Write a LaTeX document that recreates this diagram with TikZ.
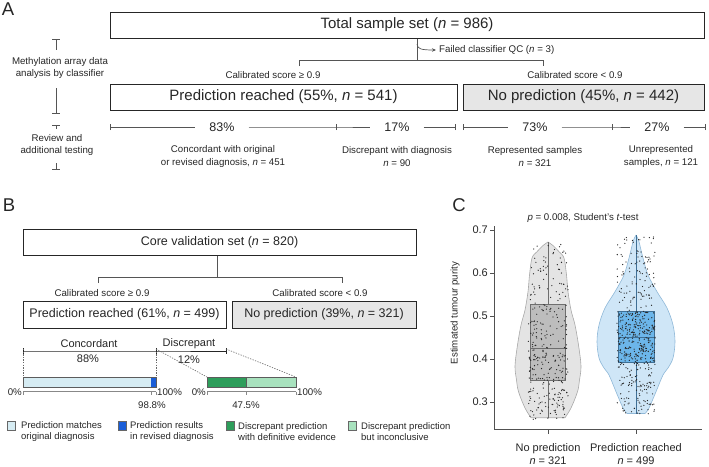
\documentclass[tikz,border=0pt]{standalone}
\usepackage{fontspec}
\setmainfont{Liberation Sans}
\usetikzlibrary{arrows.meta}
\definecolor{ink}{HTML}{262626}
\definecolor{lineg}{HTML}{555555}
\definecolor{boxgray}{HTML}{E6E6E6}
\definecolor{vgray}{HTML}{E4E4E4}
\definecolor{vgrayb}{HTML}{A8A8A8}
\definecolor{bgray}{HTML}{BDBDBD}
\definecolor{bgrayb}{HTML}{6E6E6E}
\definecolor{vblue}{HTML}{CFE6F7}
\definecolor{vblueb}{HTML}{8FB8D8}
\definecolor{bblue}{HTML}{6CB6EA}
\definecolor{bblueb}{HTML}{3F6F95}
\definecolor{lightbar}{HTML}{D6ECF3}
\definecolor{revblue}{HTML}{1A5ED8}
\definecolor{dgreen}{HTML}{2E9E5B}
\definecolor{lgreen}{HTML}{A8E2BE}
\newcommand{\myBig}{\fontsize{15}{18}\selectfont}
\newcommand{\myMid}{\fontsize{12.5}{15}\selectfont}
\newcommand{\mySmall}{\fontsize{9.7}{12}\selectfont}
\newcommand{\myDesc}{\fontsize{9.7}{13}\selectfont}
\newcommand{\myLeg}{\fontsize{9.5}{11.7}\selectfont}
\newcommand{\myPct}{\fontsize{12.5}{15}\selectfont}
\newcommand{\myBr}{\fontsize{11}{13}\selectfont}
\newcommand{\myAx}{\fontsize{11}{13}\selectfont}
\newcommand{\myLetter}{\fontsize{18.5}{20}\selectfont}
\tikzset{
  flowbox/.style={draw=ink, line width=1pt, inner sep=0pt, text=ink},
  graybox/.style={flowbox, fill=boxgray},
  conn/.style={draw=lineg, line width=0.9pt},
  seg/.style={draw=lineg, line width=0.7pt},
  pctlab/.style={inner xsep=14pt, inner ysep=0pt, text=ink, font=\myPct},
  lab/.style={inner sep=0pt, text=ink, font=\mySmall},
  desc/.style={inner sep=0pt, text=ink, font=\myDesc, align=center},
  leg/.style={inner sep=0pt, text=ink, font=\myLeg, align=left, anchor=west},
  legsq/.style={draw=ink!70, line width=0.5pt, minimum width=8pt, minimum height=9pt, inner sep=0pt},
  dotline/.style={draw=ink!70, line width=0.6pt, dash pattern=on 1.3pt off 1.3pt},
  brk/.style={draw=ink, line width=0.9pt},
  axl/.style={draw=ink!80, line width=0.8pt},
  letter/.style={inner sep=0pt, text=ink, font=\myLetter},
}
\begin{document}
\begin{tikzpicture}[x=1pt,y=-1pt]
\useasboundingbox (0,0) rectangle (709,466);
% ---------------- Panel A ----------------
\node[letter] (LA) at (8,9) {A};
\node[flowbox, minimum width=594pt, minimum height=26pt] (total) at (407,25) {\myBig Total sample set (\textit{n} = 986)};
\node[flowbox, minimum width=347pt, minimum height=26pt] (predA) at (283.5,97) {\myBig Prediction reached (55\%, \textit{n} = 541)};
\node[graybox, minimum width=241pt, minimum height=26pt] (nopA) at (583.5,97) {\myBig No prediction (45\%, \textit{n} = 442)};
% branch
\coordinate (brA) at (417,60);
\coordinate (lA) at (299,60);
\coordinate (rA) at (543,60);
\coordinate (lAd) at (299,66);
\coordinate (rAd) at (543,66);
\draw[conn] (total.south -| brA) -- (brA);
\draw[conn] (lAd) -- (lA) -- (rA) -- (rAd);
\coordinate (qcs) at (417,44);
\node[lab, anchor=west] (qc) at (439,50) {Failed classifier QC (\textit{n} = 3)};
\draw[conn, line width=0.7pt, -{Stealth[length=4pt,width=3.5pt]}] (qcs) .. controls (417.5,49) and (421,50) .. ([xshift=-3pt]qc.west);
\node[lab] (calA1) at (273,75) {Calibrated score ≥ 0.9};
\node[lab] (calA2) at (575,75) {Calibrated score < 0.9};
% segments
\coordinate (s0) at (110,127);
\coordinate (s1) at (336,127);
\coordinate (s2) at (455,127);
\coordinate (s3) at (463,127);
\coordinate (s4) at (612,127);
\coordinate (s5) at (705,127);
\node[pctlab] (p83) at (222,127) {83\%};
\node[pctlab] (p17) at (397,127) {17\%};
\node[pctlab] (p73) at (535,127) {73\%};
\node[pctlab] (p27) at (657,127) {27\%};
\draw[seg] (s0) -- (p83) (p83) -- (s1) -- (p17) (p17) -- (s2);
\draw[seg] (s3) -- (p73) (p73) -- (s4) -- (p27) (p27) -- (s5);
\foreach \c in {s0,s1,s2,s3,s4,s5}{\draw[seg] ([yshift=-3pt]\c) -- ([yshift=3pt]\c);}
\node[desc] (dA1) at (223,156.5) {Concordant with original\\or revised diagnosis, \textit{n} = 451};
\node[desc] (dA2) at (397,156.5) {Discrepant with diagnosis\\\textit{n} = 90};
\node[desc] (dA3) at (535,156.5) {Represented samples\\\textit{n} = 321};
\node[desc] (dA4) at (661,156.5) {Unrepresented\\samples, \textit{n} = 121};
% left annotations
\coordinate (m1) at (56,39);
\coordinate (m2) at (56,50);
\coordinate (m3) at (56,88);
\coordinate (m4) at (56,113);
\coordinate (r1) at (56,125);
\coordinate (r2) at (56,129);
\coordinate (r3) at (56,163);
\coordinate (r4) at (56,169);
\node[desc, font=\mySmall] (methA) at (60,67.5) {Methylation array data\\analysis by classifier};
\node[desc, font=\mySmall] (revA) at (57,145) {Review and\\additional testing};
\draw[conn, line width=0.8pt] (m1) -- (m2) (m3) -- (m4) (r1) -- (r2) (r3) -- (r4);
\foreach \c in {m1,m4,r1,r4}{\draw[conn, line width=0.8pt] ([xshift=-4pt]\c) -- ([xshift=4pt]\c);}
% ---------------- Panel B ----------------
\node[letter] (LB) at (9,205) {B};
\node[flowbox, minimum width=393pt, minimum height=26pt] (core) at (219.5,242) {\myMid Core validation set (\textit{n} = 820)};
\node[flowbox, minimum width=203pt, minimum height=27pt] (predB) at (124.5,314.5) {\myMid Prediction reached (61\%, \textit{n} = 499)};
\node[graybox, minimum width=184pt, minimum height=27pt] (nopB) at (324,314.5) {\myMid No prediction (39\%, \textit{n} = 321)};
\coordinate (brB) at (217,277);
\coordinate (lB) at (98,277);
\coordinate (rB) at (342,277);
\coordinate (lBd) at (98,283);
\coordinate (rBd) at (342,283);
\draw[conn] (core.south -| brB) -- (brB);
\draw[conn] (lBd) -- (lB) -- (rB) -- (rBd);
\node[lab] (calB1) at (102,293) {Calibrated score ≥ 0.9};
\node[lab] (calB2) at (320,293) {Calibrated score < 0.9};
% brackets
\coordinate (k0) at (23,351);
\coordinate (k1) at (156,351);
\coordinate (k2) at (226,351);
\draw[brk] (k0) -- (k1) -- (k2);
\foreach \c in {k0,k1,k2}{\draw[brk] ([yshift=-2.5pt]\c) -- ([yshift=3pt]\c);}
\node[inner sep=0pt, text=ink, font=\myBr] (conc) at (89,344) {Concordant};
\node[inner sep=0pt, text=ink, font=\myBr] (disc) at (189,344) {Discrepant};
\node[inner sep=0pt, text=ink, font=\myBr] (p88) at (88,358.5) {88\%};
\node[inner sep=0pt, text=ink, font=\myBr] (p12) at (189,360) {12\%};
% bars
\coordinate (b1a) at (23,377);
\coordinate (b1b) at (156,387);
\coordinate (b2a) at (207,377);
\coordinate (b2b) at (296,387);
\draw[dotline] ([yshift=2pt]k0) -- (b1a);
\draw[dotline] ([yshift=2pt]k1) -- (b1a -| k1);
\draw[dotline] ([yshift=2pt]k1) -- (b2a);
\draw[dotline] ([yshift=2pt]k2) -- (b2b |- b2a);
\fill[lightbar] (23,377) rectangle (151,387);
\fill[revblue] (151,377) rectangle (156,387);
\draw[ink!75, line width=0.7pt] (b1a) rectangle (b1b);
\fill[dgreen] (207,377) rectangle (246,387);
\fill[lgreen] (246,377) rectangle (296,387);
\draw[ink!75, line width=0.7pt] (b2a) rectangle (b2b);
\draw[ink!75, line width=0.5pt] (246,377) -- (246,387);
% bar axes
\draw[draw=ink!55, line width=0.6pt] (23,391.5) -- (156,391.5);
\draw[draw=ink!55, line width=0.6pt] (207,391.5) -- (296,391.5);
\foreach \xx in {23,151,156,207,246,296}{\draw[draw=ink!55, line width=0.6pt] (\xx,391.5) -- (\xx,395);}
\node[lab, anchor=east] (z1) at (22,392) {0\%};
\node[lab, anchor=west] (h1) at (157,392) {100\%};
\node[lab] (n988) at (152,405) {98.8\%};
\node[lab, anchor=east] (z2) at (206,392) {0\%};
\node[lab, anchor=west] (h2) at (297,392) {100\%};
\node[lab] (n475) at (246,405) {47.5\%};
% legend
\node[legsq, fill=lightbar] (q1) at (11,426) {};
\node[leg] (t1) at (21,431.5) {Prediction matches\\original diagnosis};
\node[legsq, fill=revblue] (q2) at (122,426) {};
\node[leg] (t2) at (130,431.5) {Prediction results\\in revised diagnosis};
\node[legsq, fill=dgreen] (q3) at (230,426) {};
\node[leg] (t3) at (238,431.5) {Discrepant prediction\\with definitive evidence};
\node[legsq, fill=lgreen] (q4) at (352,426) {};
\node[leg] (t4) at (361,431.5) {Discrepant prediction\\but inconclusive};
% ---------------- Panel C ----------------
\node[letter] (LC) at (459,205) {C};
\node[lab] (ptest) at (583,218) {\textit{p} = 0.008, Student's \textit{t}-test};
% violins
\filldraw[fill=vgray, draw=vgrayb, line width=0.6pt]
  plot[smooth, tension=0.55] coordinates {(548,242) (553,245.5) (559,251.7) (564,258) (566.5,275) (568,291.7) (571,310) (575,325) (578.5,345) (581,366) (579.5,380) (577.5,391.7) (571,408) (565,417.7)}
  -- plot[smooth, tension=0.55] coordinates {(531,417.7) (525,408) (518.5,391.7) (516.5,380) (515,366) (517.5,345) (521,325) (525,310) (528,291.7) (529.5,275) (532,258) (537,251.7) (543,245.5) (548,242)} -- cycle;
\filldraw[fill=vblue, draw=vblueb, line width=0.6pt]
  plot[smooth, tension=0.55] coordinates {(636,235.2) (638.5,240) (641,250) (643,258) (648,275) (657,291.7) (667,308) (673,325) (675,341.7) (673,358) (668,368) (663,375) (656,391.7) (649,408) (645,413.5)}
  -- plot[smooth, tension=0.55] coordinates {(627,413.5) (623,408) (616,391.7) (609,375) (604,368) (599,358) (597,341.7) (599,325) (605,308) (615,291.7) (624,275) (629,258) (631,250) (633.5,240) (636,235.2)} -- cycle;
% whiskers
\draw[bgrayb, line width=0.8pt] (548,242) -- (548,417.7);
\draw[bblueb, line width=0.8pt] (636,235.2) -- (636,413.5);
% boxes
\draw[fill=bgray, draw=bgrayb, line width=0.8pt] (530.5,304) rectangle (565.5,380.5);
\draw[bgrayb, line width=0.9pt] (530.5,348.5) -- (565.5,348.5);
\draw[fill=bblue, draw=bblueb, line width=0.8pt] (618,311.5) rectangle (654,362);
\draw[bblueb, line width=0.9pt] (618,337) -- (654,337);
% jitter points
\pgfmathsetseed{7}
\foreach \i in {1,...,321}{
  \pgfmathsetmacro\u{rnd}
  \pgfmathsetmacro\v{\u<0.25 ? 0.26+0.088*\u/0.25 : (\u<0.5 ? 0.348+0.074*(\u-0.25)/0.25 : (\u<0.75 ? 0.422+0.106*(\u-0.5)/0.25 : 0.528+0.142*(\u-0.75)/0.25))}
  \pgfmathsetmacro\dx{(rnd-0.5)*40}
  \fill[black!85] ({548+\dx},{230+(0.7-\v)*430}) circle (0.65pt);
}
\foreach \i in {1,...,499}{
  \pgfmathsetmacro\u{rnd}
  \pgfmathsetmacro\v{\u<0.25 ? 0.272+0.118*\u/0.25 : (\u<0.5 ? 0.39+0.062*(\u-0.25)/0.25 : (\u<0.75 ? 0.452+0.058*(\u-0.5)/0.25 : 0.51+0.175*(\u-0.75)/0.25))}
  \pgfmathsetmacro\dx{(rnd-0.5)*38}
  \fill[black!85] ({636+\dx},{230+(0.7-\v)*430}) circle (0.65pt);
}
% axes
\coordinate (ax0) at (494,429);
\coordinate (axT) at (494,226);
\coordinate (axR) at (702,429);
\draw[axl] (axT) -- (ax0) -- (axR);
\foreach \vv/\t in {0.3/0.3,0.4/0.4,0.5/0.5,0.6/0.6,0.7/0.7}{
  \draw[axl] (490,{230+(0.7-\vv)*430}) -- (494,{230+(0.7-\vv)*430});
  \node[inner sep=0pt, text=ink, font=\myAx, anchor=east] at (488,{230+(0.7-\vv)*430}) {\t};
}
\draw[axl] (548,429) -- (548,433.5);
\draw[axl] (636,429) -- (636,433.5);
\node[desc, font=\myAx] (xl1) at (548,454.5) {No prediction\\\textit{n} = 321};
\node[desc, font=\myAx] (xl2) at (636,454.5) {Prediction reached\\\textit{n} = 499};
\node[lab, rotate=90] (ylab) at (455,313) {Estimated tumour purity};
\end{tikzpicture}
\end{document}
